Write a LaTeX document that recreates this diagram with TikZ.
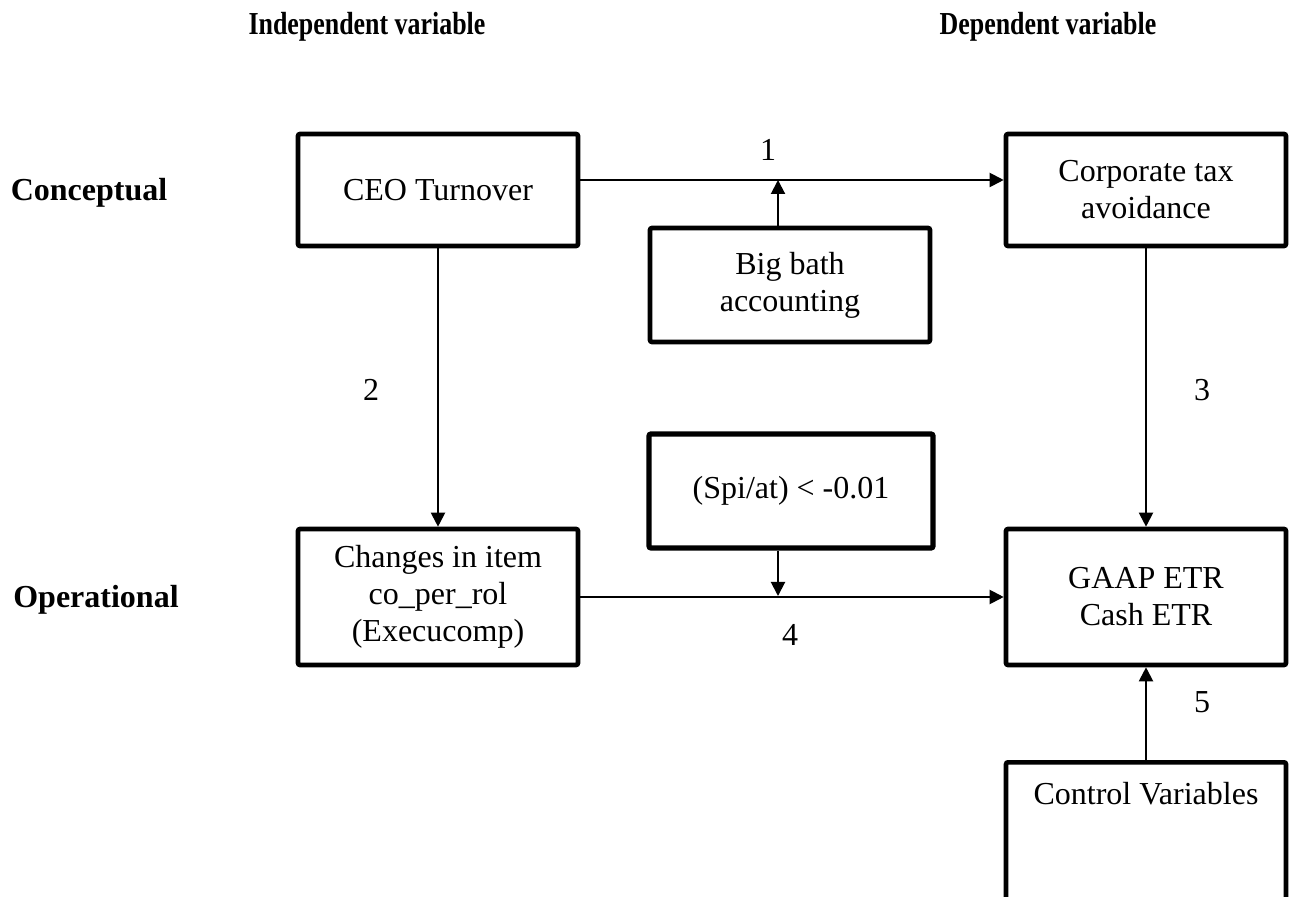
\documentclass[tikz,border=0pt]{standalone}
\usepackage{fontspec}
\setmainfont{Liberation Serif}
\usepackage{tikz}
\usetikzlibrary{arrows.meta,positioning,calc}

\begin{document}
\begin{tikzpicture}[x=0.5pt, y=-0.5pt,
  box/.style={draw, line width=2.3pt, rounded corners=1pt, minimum width=140pt, minimum height=56pt, inner sep=0pt, align=center, font=\fontsize{16}{18.5}\selectfont},
  txt/.style={inner sep=0pt, font=\fontsize{16}{18.5}\selectfont},
  head/.style={inner sep=0pt, font=\fontsize{16}{18.5}\selectfont\bfseries},
  arrow/.style={-{Triangle[length=7pt,width=7pt]}, line width=1pt}
]
  \clip (0,0) rectangle (1296,897);
  % headings
  \node (indep)   at (367,27)  [head] {\scalebox{0.81}[1]{Independent variable}};
  \node (dep)     at (1048,27) [head] {\scalebox{0.81}[1]{Dependent variable}};
  \node (concept) at (89,193)  [head] {Conceptual};
  \node (oper)    at (96,600)  [head] {Operational};
  % boxes
  \node (ceo)    at (438,190)  [box] {CEO Turnover};
  \node (tax)    at (1146,190) [box] {Corporate tax\\avoidance};
  \node (bath)   at (790,285)  [box, minimum height=57pt] {Big bath\\accounting};
  \node (spi)    at (791,491)  [box, line width=2.6pt, minimum width=142pt, minimum height=57pt] {(Spi/at) < -0.01};
  \node (change) at (438,597)  [box, minimum height=68pt] {Changes in item\\co\_per\_rol\\(Execucomp)};
  \node (gaap)   at (1146,597) [box, minimum height=68pt] {GAAP ETR\\Cash ETR};
  \node (ctrl)   at (1146,760) [box, anchor=north, inner ysep=10pt, text height=11pt, text depth=100pt] {Control Variables};
  % joints on the paths
  \coordinate (j1) at (778,180);
  \coordinate (j2) at (778,596);
  % numbers
  \node (n1) at (768,150)  [txt] {1};
  \node (n2) at (371,390)  [txt] {2};
  \node (n3) at (1202,390) [txt] {3};
  \node (n4) at (790,635)  [txt] {4};
  \node (n5) at (1202,702) [txt] {5};
  % connectors
  \draw[arrow] ([yshift=5pt]ceo.east) -- ([yshift=5pt]tax.west);
  \draw[arrow] (bath.north -| j1) -- (j1);
  \draw[arrow] (change.east) -- (gaap.west);
  \draw[arrow] (spi.south -| j2) -- (j2);
  \foreach \i/\j in {ceo/change,tax/gaap,ctrl/gaap} \draw[arrow] (\i) -- (\j);
\end{tikzpicture}
\end{document}
